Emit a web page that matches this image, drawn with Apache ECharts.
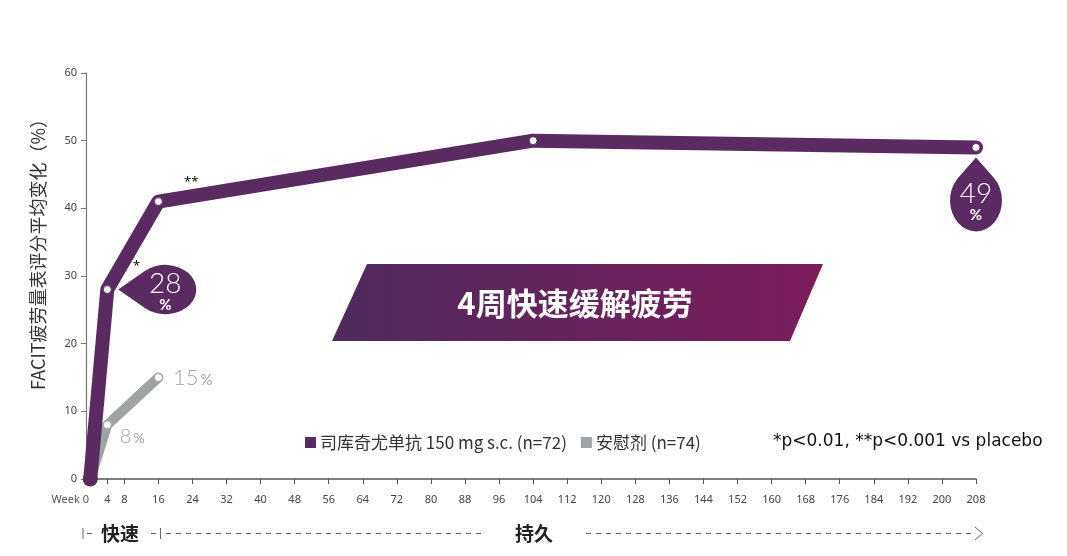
<!DOCTYPE html>
<html><head><meta charset="utf-8">
<script src="https://cdn.jsdelivr.net/npm/echarts@6/dist/echarts.min.js"></script>
<style>html,body{margin:0;padding:0;background:#fff}#c{width:1067px;height:556px}</style>
</head><body><div id="c"></div>
<script>
// ---- data ----
const drugName = '司库奇尤单抗 150 mg s.c. (n=72)';
const placeboName = '安慰剂 (n=74)';
const drugWeeks = [0, 4, 16, 104, 208];
const drugValues = [0, 28, 41, 50, 49];
const placeboWeeks = [0, 4, 16];
const placeboValues = [0, 8, 15];
const xTickWeeks = [0, 4, 8, 16, 24, 32, 40, 48, 56, 64, 72, 80, 88, 96, 104, 112, 120, 128, 136, 144, 152, 160, 168, 176, 184, 192, 200, 208];
const yTicks = [0, 10, 20, 30, 40, 50, 60];
const yAxisTitle = 'FACIT疲劳量表评分平均变化（%）';
const bannerText = '4周快速缓解疲劳';
const pText = '*p<0.01, **p<0.001 vs placebo';
const phaseFast = '快速';
const phaseLasting = '持久';

// ---- style ----
const PURPLE = '#5c2a63';
const GRAY = '#a0a3a6';
const CJK = '"Noto Sans CJK SC", "Noto Sans", sans-serif';
const NUM = 'Lato, "Noto Sans", sans-serif';

const chart = echarts.init(document.getElementById('c'), null, {renderer: 'canvas'});

const drugData = drugWeeks.map((w, i) => i === 0
  ? {value: [w, drugValues[i]], symbolSize: 15, itemStyle: {color: PURPLE, borderWidth: 0}}
  : [w, drugValues[i]]);
const placeboData = placeboWeeks.map((w, i) => i === 0
  ? {value: [w, placeboValues[i]], symbol: 'none'}
  : [w, placeboValues[i]]);

const bubbleRich = {
  n: {fontSize: 28, color: '#fff', fontFamily: NUM, fontWeight: 300, lineHeight: 28},
  p: {fontSize: 15, color: '#fff', fontFamily: NUM, fontWeight: 'bold', lineHeight: 15}
};
const grayRich = (big) => ({
  n: {fontSize: big, color: GRAY, fontFamily: NUM, fontWeight: 300},
  p: {fontSize: Math.round(big * 0.7), color: GRAY, fontFamily: NUM, verticalAlign: 'bottom', padding: [0, 0, 1, 2]}
});

const option = {
  animation: false,
  grid: {left: 86, right: 91, top: 73, bottom: 77, containLabel: false, outerBoundsMode: 'none'},
  xAxis: {
    type: 'value', min: -1, max: 208,
    axisLine: {show: true, onZero: false, lineStyle: {color: '#555', width: 1.5}},
    axisTick: {show: true, length: 5, lineStyle: {color: '#555'}, customValues: xTickWeeks.filter(v => v !== 0)},
    axisLabel: {
      customValues: xTickWeeks, fontSize: 11, color: '#444', fontFamily: '"Noto Sans", sans-serif', margin: 15,
      formatter: v => v === 0 ? '{w|Week 0}' : String(v),
      rich: {w: {fontSize: 11, color: '#555', fontFamily: '"Noto Sans", sans-serif', padding: [0, 40, 0, 0]}}
    },
    splitLine: {show: false}
  },
  yAxis: {
    type: 'value', min: yTicks[0], max: yTicks[yTicks.length - 1], interval: 10,
    axisLine: {show: true, onZero: false, lineStyle: {color: '#777', width: 1.2}},
    axisTick: {show: true, length: 5, lineStyle: {color: '#777'}},
    axisLabel: {fontSize: 11, color: '#444', fontFamily: '"Noto Sans", sans-serif', margin: 9},
    splitLine: {show: false}
  },
  legend: {
    left: 300, top: 429, icon: 'rect', itemWidth: 9, itemHeight: 9, itemGap: 14,
    selectedMode: false,
    textStyle: {fontSize: 17, color: '#333', fontFamily: CJK},
    data: [{name: drugName, itemStyle: {color: PURPLE}}, {name: placeboName, itemStyle: {color: GRAY}}]
  },
  series: [
    {
      name: placeboName, type: 'line', clip: false, z: 2,
      data: placeboData,
      symbol: 'circle', symbolSize: 8,
      itemStyle: {color: '#fff', borderColor: GRAY, borderWidth: 1},
      lineStyle: {color: GRAY, width: 10, cap: 'round', join: 'round'},
      emphasis: {disabled: true},
      markPoint: {
        symbol: 'circle', symbolSize: 1, itemStyle: {color: 'rgba(0,0,0,0)'},
        data: [
          {coord: [16, 15], label: {show: true, position: 'right', distance: 14, formatter: '{n|15}{p|%}', rich: grayRich(22)}},
          {coord: [4, 8], label: {show: true, position: 'right', distance: 12, offset: [0, 12], formatter: '{n|8}{p|%}', rich: grayRich(20)}}
        ]
      }
    },
    {
      name: drugName, type: 'line', clip: false, z: 3,
      data: drugData,
      symbol: 'circle', symbolSize: 8,
      itemStyle: {color: '#fff', borderColor: PURPLE, borderWidth: 1},
      lineStyle: {color: PURPLE, width: 14, cap: 'round', join: 'round'},
      emphasis: {disabled: true},
      markPoint: {
        symbolKeepAspect: true,
        data: [
          {coord: [drugWeeks[1], drugValues[1]], symbol: 'path://M0 31L26.5 7.7A31 31 0 1 1 26.5 54.3Z',
           symbolSize: [78, 62], symbolOffset: [50, 0], itemStyle: {color: PURPLE},
           label: {show: true, position: 'inside', offset: [8, 2], formatter: '{n|28}\n{p|%}', rich: bubbleRich}},
          {coord: [drugWeeks[4], drugValues[4]], symbol: 'path://M31 0L52.5 20.65A31 31 0 1 1 9.5 20.65Z',
           symbolSize: [62, 74], symbolOffset: [0, 47], itemStyle: {color: PURPLE},
           label: {show: true, position: 'inside', offset: [0, 7], formatter: '{n|49}\n{p|%}', rich: bubbleRich}}
        ]
      }
    }
  ],
  graphic: [
    {type: 'text', x: 38, y: 250, rotation: Math.PI / 2,
     style: {text: yAxisTitle, fontSize: 18, fontFamily: CJK, fill: '#333', align: 'center', verticalAlign: 'middle'}},
    {type: 'polygon', z: 1,
     shape: {points: [[367, 264], [823, 264], [790, 341], [332, 341]]},
     style: {fill: {type: 'linear', x: 0, y: 0, x2: 1, y2: 0, colorStops: [{offset: 0, color: '#4f2a5e'}, {offset: 1, color: '#7c1c5b'}]}}},
    {type: 'text', x: 575, y: 303, z: 2,
     style: {text: bannerText, fontSize: 31, fontWeight: 'bold', fontFamily: CJK, fill: '#fff', align: 'center', verticalAlign: 'middle'}},
    {type: 'text', x: 133, y: 266,
     style: {text: '*', fontSize: 13, fontFamily: '"Noto Sans", sans-serif', fill: '#111', align: 'left', verticalAlign: 'middle'}},
    {type: 'text', x: 184, y: 182,
     style: {text: '**', fontSize: 13, fontFamily: '"Noto Sans", sans-serif', fill: '#111', align: 'left', verticalAlign: 'middle'}},
    {type: 'text', x: 773, y: 442,
     style: {text: pText, fontSize: 17, fontFamily: '"DejaVu Sans", sans-serif', fill: '#111', align: 'left', verticalAlign: 'middle'}},
    // bottom phase row
    {type: 'line', shape: {x1: 83, y1: 528, x2: 83, y2: 539}, style: {stroke: '#666', lineWidth: 1}},
    {type: 'line', shape: {x1: 87, y1: 533.5, x2: 92, y2: 533.5}, style: {stroke: '#666', lineWidth: 1}},
    {type: 'text', x: 101, y: 534,
     style: {text: phaseFast, fontSize: 19, fontWeight: 'bold', fontFamily: CJK, fill: '#222', align: 'left', verticalAlign: 'middle'}},
    {type: 'line', shape: {x1: 151, y1: 533.5, x2: 156, y2: 533.5}, style: {stroke: '#666', lineWidth: 1}},
    {type: 'line', shape: {x1: 160.5, y1: 528, x2: 160.5, y2: 539}, style: {stroke: '#666', lineWidth: 1}},
    {type: 'line', shape: {x1: 166, y1: 533.5, x2: 484, y2: 533.5}, style: {stroke: '#666', lineWidth: 1, lineDash: [5, 5]}},
    {type: 'text', x: 515, y: 534,
     style: {text: phaseLasting, fontSize: 19, fontWeight: 'bold', fontFamily: CJK, fill: '#222', align: 'left', verticalAlign: 'middle'}},
    {type: 'line', shape: {x1: 586, y1: 533.5, x2: 974, y2: 533.5}, style: {stroke: '#666', lineWidth: 1, lineDash: [5, 5]}},
    {type: 'polyline', shape: {points: [[975, 527], [982.5, 533.5], [975, 540]]}, style: {stroke: '#666', lineWidth: 1, fill: null}}
  ]
};
chart.setOption(option);
</script>
</body></html>
